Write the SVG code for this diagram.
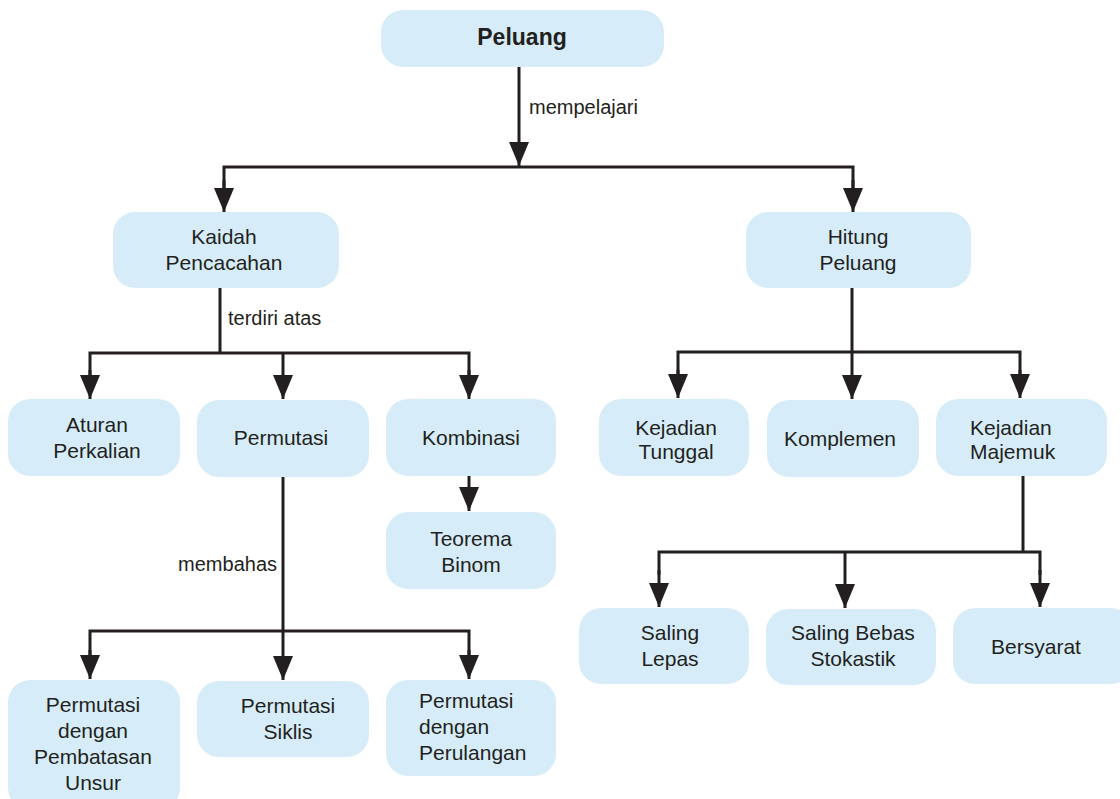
<svg xmlns="http://www.w3.org/2000/svg" width="1120" height="799" viewBox="0 0 1120 799">
<style>
.box{fill:#d6edf9;}
.t{font-family:"Liberation Sans",Arial,sans-serif;font-size:21px;fill:#231f20;text-anchor:middle;}
.tl{font-family:"Liberation Sans",Arial,sans-serif;font-size:21px;fill:#231f20;}
.b{font-weight:bold;font-size:23px;}
.lab{font-family:"Liberation Sans",Arial,sans-serif;font-size:20px;fill:#231f20;}
.c{fill:none;stroke:#231f20;stroke-width:3;}
.a{fill:none;stroke:#231f20;stroke-width:3;marker-end:url(#ah);}
</style>
<defs>
<marker id="ah" markerUnits="userSpaceOnUse" markerWidth="26" markerHeight="22" refX="24" refY="10" orient="auto">
<path d="M0,0 L24,10 L0,20 z" fill="#231f20"/>
</marker>
</defs>
<rect width="1120" height="799" fill="#ffffff"/>
<g id="connectors">
<line class="a" x1="519" y1="67" x2="519" y2="166"/>
<polyline class="c" points="224,189 224,167 853,167 853,189"/>
<line class="a" x1="224" y1="180" x2="224" y2="212"/>
<line class="a" x1="853" y1="180" x2="853" y2="212"/>
<line class="c" x1="220" y1="288" x2="220" y2="353"/>
<polyline class="c" points="90,375 90,353 469,353 469,375"/>
<line class="a" x1="90" y1="370" x2="90" y2="399"/>
<line class="a" x1="283" y1="353" x2="283" y2="399"/>
<line class="a" x1="469" y1="370" x2="469" y2="399"/>
<line class="a" x1="469" y1="476" x2="469" y2="511"/>
<line class="c" x1="283" y1="477" x2="283" y2="631"/>
<polyline class="c" points="90,655 90,631 469,631 469,655"/>
<line class="a" x1="90" y1="650" x2="90" y2="679"/>
<line class="a" x1="283" y1="631" x2="283" y2="680"/>
<line class="a" x1="469" y1="650" x2="469" y2="679"/>
<line class="c" x1="852" y1="288" x2="852" y2="352"/>
<polyline class="c" points="678,375 678,352 1020,352 1020,375"/>
<line class="a" x1="678" y1="370" x2="678" y2="398"/>
<line class="a" x1="852" y1="352" x2="852" y2="399"/>
<line class="a" x1="1020" y1="370" x2="1020" y2="398"/>
<line class="c" x1="1023" y1="476" x2="1023" y2="552"/>
<polyline class="c" points="659,575 659,552 1040,552 1040,575"/>
<line class="a" x1="659" y1="570" x2="659" y2="607"/>
<line class="a" x1="845" y1="552" x2="845" y2="608"/>
<line class="a" x1="1040" y1="570" x2="1040" y2="607"/>
<text class="lab" x="529" y="114">mempelajari</text>
<text class="lab" x="228" y="325">terdiri atas</text>
<text class="lab" x="277" y="571" text-anchor="end">membahas</text>
</g>
<g id="peluang"><rect class="box" x="381" y="10" width="283" height="57" rx="22"/><text class="t b" x="522" y="45">Peluang</text></g>
<g id="kaidah"><rect class="box" x="113" y="212" width="226" height="76" rx="22"/><text class="t" x="224" y="244">Kaidah</text><text class="t" x="224" y="270">Pencacahan</text></g>
<g id="hitung"><rect class="box" x="746" y="212" width="225" height="76" rx="22"/><text class="t" x="858" y="244">Hitung</text><text class="t" x="858" y="270">Peluang</text></g>
<g id="aturan"><rect class="box" x="8" y="399" width="172" height="77" rx="22"/><text class="t" x="97" y="432">Aturan</text><text class="t" x="97" y="458">Perkalian</text></g>
<g id="permutasi"><rect class="box" x="197" y="400" width="172" height="77" rx="22"/><text class="t" x="281" y="445">Permutasi</text></g>
<g id="kombinasi"><rect class="box" x="386" y="399" width="170" height="77" rx="22"/><text class="t" x="471" y="445">Kombinasi</text></g>
<g id="teorema"><rect class="box" x="386" y="512" width="170" height="77" rx="22"/><text class="t" x="471" y="546">Teorema</text><text class="t" x="471" y="572">Binom</text></g>
<g id="pembatasan"><rect class="box" x="8" y="680" width="172" height="130" rx="22"/><text class="t" x="93" y="712">Permutasi</text><text class="t" x="93" y="738">dengan</text><text class="t" x="93" y="764">Pembatasan</text><text class="t" x="93" y="790">Unsur</text></g>
<g id="siklis"><rect class="box" x="197" y="681" width="172" height="76" rx="22"/><text class="t" x="288" y="713">Permutasi</text><text class="t" x="288" y="739">Siklis</text></g>
<g id="perulangan"><rect class="box" x="386" y="680" width="170" height="96" rx="22"/><text class="tl" x="419" y="708">Permutasi</text><text class="tl" x="419" y="734">dengan</text><text class="tl" x="419" y="760">Perulangan</text></g>
<g id="tunggal"><rect class="box" x="599" y="399" width="150" height="77" rx="22"/><text class="t" x="676" y="435">Kejadian</text><text class="t" x="676" y="459">Tunggal</text></g>
<g id="komplemen"><rect class="box" x="767" y="400" width="152" height="77" rx="22"/><text class="t" x="840" y="446">Komplemen</text></g>
<g id="majemuk"><rect class="box" x="936" y="399" width="171" height="77" rx="22"/><text class="tl" x="970" y="435">Kejadian</text><text class="tl" x="970" y="459">Majemuk</text></g>
<g id="lepas"><rect class="box" x="579" y="608" width="170" height="76" rx="22"/><text class="t" x="670" y="640">Saling</text><text class="t" x="670" y="666">Lepas</text></g>
<g id="bebas"><rect class="box" x="766" y="609" width="170" height="76" rx="22"/><text class="t" x="853" y="640">Saling Bebas</text><text class="t" x="853" y="666">Stokastik</text></g>
<g id="bersyarat"><rect class="box" x="953" y="608" width="180" height="76" rx="22"/><text class="t" x="1036" y="654">Bersyarat</text></g>
</svg>
